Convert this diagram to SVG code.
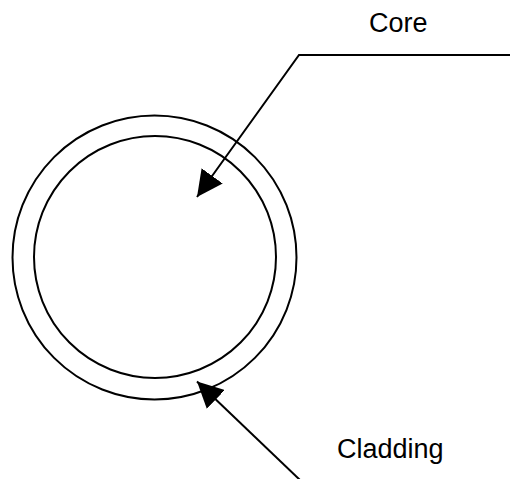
<svg xmlns="http://www.w3.org/2000/svg" width="510" height="479" viewBox="0 0 510 479">
<style>
.ring{fill:none;stroke:#000;stroke-width:2}
.conn{fill:none;stroke:#000;stroke-width:2}
.lbl{font-family:"Liberation Sans",Arial,sans-serif;font-size:27px;fill:#000}
</style>
<defs>
<marker id="ah" markerUnits="userSpaceOnUse" markerWidth="26" markerHeight="26" refX="26" refY="13" orient="auto" viewBox="0 0 26 26">
<path d="M0,0 L26,13 L0,26 z" fill="#000"/>
</marker>
</defs>
<rect width="510" height="479" fill="#fff"/>
<g id="cladding">
<circle class="ring" cx="154.5" cy="257.5" r="142"/>
</g>
<g id="core">
<circle class="ring" cx="155" cy="257" r="121"/>
</g>
<g id="label-core">
<text class="lbl" x="369" y="32">Core</text>
</g>
<g id="label-cladding">
<text class="lbl" x="337" y="458">Cladding</text>
</g>
<g id="connectors">
<polyline class="conn" points="510,55 299,55 197,197" marker-end="url(#ah)"/>
<line class="conn" x1="300" y1="480" x2="197" y2="381.5" marker-end="url(#ah)"/>
</g>
</svg>
